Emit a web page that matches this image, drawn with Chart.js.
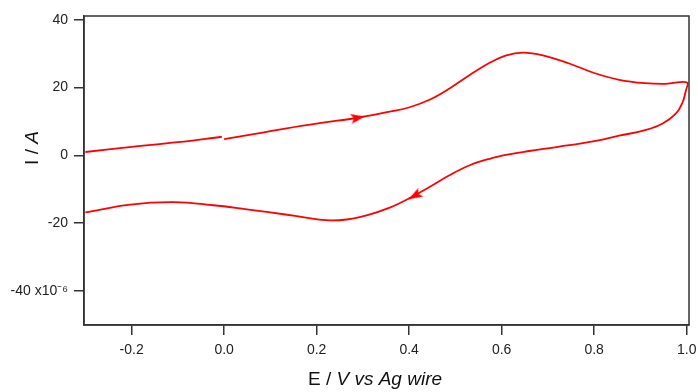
<!DOCTYPE html>
<html>
<head>
<meta charset="utf-8">
<script src="https://cdn.jsdelivr.net/npm/chart.js@4.4.0/dist/chart.umd.min.js"></script>
<style>
html, body { margin: 0; padding: 0; background: #fff; }
</style>
</head>
<body>
<canvas id="cv" width="698" height="392"></canvas>
<script>
// forward scan 0.0 -> 1.0 V
const forwardE = [0.0, 0.07, 0.135, 0.21, 0.289, 0.358, 0.401, 0.444, 0.488, 0.531, 0.574, 0.61, 0.646, 0.689, 0.746, 0.8, 0.854, 0.91, 0.955, 1.001];
const forwardI = [4.8, 6.4, 8.0, 9.6, 11.1, 12.9, 14.2, 16.4, 19.8, 23.7, 27.3, 29.5, 30.3, 29.5, 27.1, 24.3, 22.3, 21.3, 21.1, 21.5];
// reverse scan 1.0 -> -0.3 V
const reverseE = [0.998, 0.991, 0.977, 0.948, 0.912, 0.854, 0.8, 0.746, 0.7, 0.66, 0.616, 0.574, 0.531, 0.488, 0.444, 0.401, 0.358, 0.31, 0.265, 0.22, 0.157, 0.1, 0.049, -0.023, -0.109, -0.203, -0.3];
const reverseI = [19.0, 15.6, 12.4, 9.4, 7.5, 5.8, 4.2, 3.0, 2.1, 1.3, 0.3, -1.0, -2.9, -5.8, -9.3, -12.6, -15.4, -17.6, -18.9, -19.1, -17.9, -16.8, -15.9, -14.7, -13.8, -14.5, -16.8];
// second forward sweep -0.3 -> 0.0 V
const tailE = [-0.3, -0.2, -0.1, -0.005];
const tailI = [1.0, 2.5, 3.9, 5.5];
// direction arrows
const arrowE = [0.289, 0.412];
const arrowI = [11.1, -11.9];
const arrowAngle = [80, 240];

const xTicks = [-0.2, 0.0, 0.2, 0.4, 0.6, 0.8, 1.0];
const yTicks = [-40, -20, 0, 20, 40];

const toPts = (xs, ys) => xs.map((x, i) => ({ x: x, y: ys[i] }));
const red = '#ff0000';
const ink = '#333333';
const fontFamily = '"Liberation Sans", Arial, sans-serif';

const sweep = [...toPts(forwardE, forwardI), ...toPts(reverseE, reverseI)];

// arrow head pointing up, centred in its canvas
function makeArrowHead() {
    const c = document.createElement('canvas');
    c.width = 16;
    c.height = 16;
    const g = c.getContext('2d');
    g.fillStyle = red;
    g.beginPath();
    g.moveTo(8, 1);
    g.lineTo(13, 15);
    g.lineTo(8, 12);
    g.lineTo(3, 15);
    g.closePath();
    g.fill();
    return c;
}
const arrowHead = makeArrowHead();

const framePlugin = {
    id: 'frame',
    afterDraw(chart) {
        const { ctx, chartArea: a } = chart;
        ctx.save();
        ctx.strokeStyle = ink;
        ctx.lineWidth = 1.5;
        ctx.strokeRect(a.left, a.top, a.right - a.left, a.bottom - a.top);

        // axis titles
        ctx.fillStyle = '#111';
        ctx.textBaseline = 'middle';
        const up = '19px ' + fontFamily;
        const it = 'italic 19px ' + fontFamily;
        // x title
        ctx.font = up;
        const w1 = ctx.measureText('E / ').width;
        ctx.font = it;
        const w2 = ctx.measureText('V vs Ag wire').width;
        let x0 = 375 - (w1 + w2) / 2;
        ctx.textAlign = 'left';
        ctx.font = up;
        ctx.fillText('E / ', x0, 380);
        ctx.font = it;
        ctx.fillText('V vs Ag wire', x0 + w1, 380);
        // y title
        ctx.translate(33, 148);
        ctx.rotate(-Math.PI / 2);
        ctx.font = up;
        const v1 = ctx.measureText('I / ').width;
        ctx.font = it;
        const v2 = ctx.measureText('A').width;
        x0 = -(v1 + v2) / 2;
        ctx.font = up;
        ctx.fillText('I / ', x0, 0);
        ctx.font = it;
        ctx.fillText('A', x0 + v1, 0);
        ctx.restore();
    }
};

new Chart(document.getElementById('cv'), {
    type: 'scatter',
    data: {
        datasets: [
            {
                data: sweep,
                showLine: true,
                borderColor: red,
                borderWidth: 1.8,
                pointRadius: 0,
                tension: 0.4
            },
            {
                data: toPts(tailE, tailI),
                showLine: true,
                borderColor: red,
                borderWidth: 1.8,
                pointRadius: 0,
                tension: 0.4
            },
            {
                data: toPts(arrowE, arrowI),
                showLine: false,
                pointStyle: arrowHead,
                pointRadius: 8,
                pointRotation: arrowAngle
            }
        ]
    },
    options: {
        responsive: false,
        animation: false,
        layout: { padding: { left: 0, top: 16, right: 8, bottom: 0 } },
        plugins: { legend: { display: false }, tooltip: { enabled: false } },
        scales: {
            x: {
                type: 'linear',
                min: -0.303,
                max: 1.005,
                afterBuildTicks: (s) => { s.ticks = xTicks.map(v => ({ value: v })); },
                afterFit: (s) => { s.height = 67; s.paddingLeft = 0; s.paddingRight = 0; },
                grid: { drawOnChartArea: false, drawTicks: true, tickLength: 10, color: ink, lineWidth: 1.5 },
                border: { display: true, color: ink, width: 1.5 },
                ticks: {
                    color: '#222',
                    padding: 7,
                    maxRotation: 0,
                    font: { family: fontFamily, size: 14 },
                    callback: (v) => Number(v).toFixed(1)
                }
            },
            y: {
                type: 'linear',
                min: -50,
                max: 41.1,
                afterBuildTicks: (s) => { s.ticks = yTicks.map(v => ({ value: v })); },
                afterFit: (s) => { s.width = 84; },
                grid: { drawOnChartArea: false, drawTicks: true, tickLength: 10, color: ink, lineWidth: 1.5 },
                border: { display: true, color: ink, width: 1.5 },
                ticks: {
                    color: '#222',
                    padding: 6,
                    font: { family: fontFamily, size: 14 },
                    callback: (v) => v === -40 ? '-40 x10\u207B\u2076' : String(v)
                }
            }
        }
    },
    plugins: [framePlugin]
});
</script>
</body>
</html>
